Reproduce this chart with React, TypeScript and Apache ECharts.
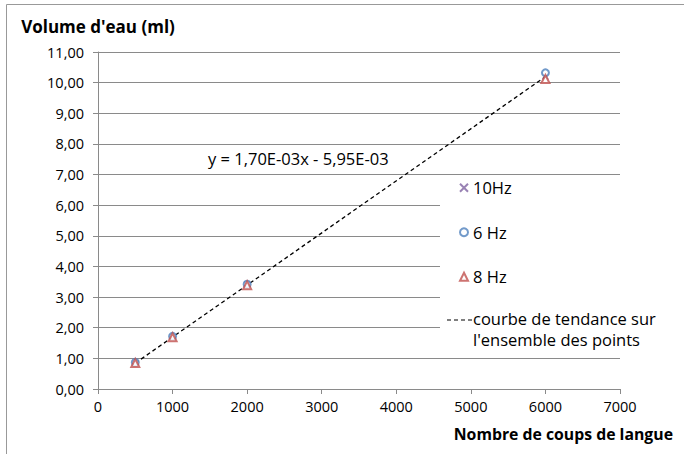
import React, { useEffect, useRef } from "react";
import * as echarts from "echarts";

const xTicks = [0, 1000, 2000, 3000, 4000, 5000, 6000, 7000];
const seriesNames = ["10Hz", "6 Hz", "8 Hz"];
const strokes = [500, 1000, 2000, 6000];
const vol10Hz = [0.86, 1.7, 3.41, 10.2];
const vol6Hz = [0.87, 1.72, 3.42, 10.32];
const vol8Hz = [0.85, 1.69, 3.39, 10.12];
const trendX = [500, 6000];
const trendY = [0.844, 10.194];
const trendLabel = "y = 1,70E-03x - 5,95E-03";
const trendLegend = ["courbe de tendance sur", "l'ensemble des points"];

const FONT = "'Open Sans', sans-serif";
const CROSS = "path://M0,0L10,10M10,0L0,10";

export default function App() {
  const ref = useRef<HTMLDivElement>(null);
  useEffect(() => {
    if (!ref.current) return;
    const chart = echarts.init(ref.current, null, { renderer: "svg" });
    const pairs = (ys: number[]) => strokes.map((x, i) => [x, ys[i]]);
    const gridColor = "#8a8a8a";
    chart.setOption({
      animation: false,
      backgroundColor: "#fff",
      textStyle: { fontFamily: FONT },
      grid: { left: 98, right: 64, top: 52, bottom: 65 },
      xAxis: {
        type: "value",
        min: 0,
        max: 7000,
        interval: 1000,
        name: "Nombre de coups de langue",
        nameLocation: "end",
        nameGap: 53,
        nameTextStyle: {
          fontFamily: FONT,
          fontWeight: "bold",
          fontSize: 15.8,
          color: "#000",
          align: "right",
          verticalAlign: "top",
          padding: [37, 0, 0, 0],
        },
        axisLine: { show: true, lineStyle: { color: gridColor, width: 1 } },
        axisTick: { show: true, length: 5, lineStyle: { color: gridColor } },
        axisLabel: {
          color: "#000",
          fontSize: 14.5,
          fontFamily: FONT,
          margin: 10,
          formatter: (v: number) => String(xTicks.find((t) => t === v) ?? v),
        },
        splitLine: { show: false },
      },
      yAxis: {
        type: "value",
        min: 0,
        max: 11,
        interval: 1,
        name: "Volume d'eau (ml)",
        nameLocation: "end",
        nameGap: 17,
        nameTextStyle: {
          fontFamily: FONT,
          fontWeight: "bold",
          fontSize: 17,
          color: "#000",
        },
        axisLine: { show: true, lineStyle: { color: gridColor, width: 1 } },
        axisTick: { show: true, length: 5, lineStyle: { color: gridColor } },
        axisLabel: {
          color: "#000",
          fontSize: 14.5,
          fontFamily: FONT,
          margin: 14,
          formatter: (v: number) => v.toFixed(2).replace(".", ","),
        },
        splitLine: { show: true, lineStyle: { color: gridColor, width: 1 } },
      },
      legend: {
        orient: "vertical",
        left: 454,
        top: 174,
        itemWidth: 8,
        itemHeight: 8,
        itemGap: 27,
        data: seriesNames,
        textStyle: { fontSize: 16.5, fontFamily: FONT, color: "#000", lineHeight: 17.5 },
        z: 6,
      },
      graphic: [
        {
          type: "rect",
          shape: { x: 6.5, y: 4.5, width: 700, height: 500 },
          style: { fill: "none", stroke: "#999", lineWidth: 1 },
          z: 10,
          silent: true,
        },
        {
          type: "rect",
          shape: { x: 440, y: 176.5, width: 190, height: 181 },
          style: { fill: "#fff" },
          z: 3,
          silent: true,
        },
        {
          type: "line",
          shape: { x1: 447, y1: 320, x2: 472, y2: 320 },
          style: { stroke: "#000", lineWidth: 1.2, lineDash: [4, 3] },
          z: 6,
        },
        {
          type: "text",
          left: 473,
          top: 308,
          style: {
            text: trendLegend.join("\n"),
            fontSize: 16.5,
            fontFamily: FONT,
            fill: "#000",
            lineHeight: 21,
          },
          z: 6,
        },
        {
          type: "text",
          left: 208,
          top: 150,
          style: { text: trendLabel, fontSize: 16.5, fontFamily: FONT, fill: "#000" },
          z: 6,
        },
      ],
      series: [
        {
          name: "courbe",
          type: "line",
          data: trendX.map((x, i) => [x, trendY[i]]),
          showSymbol: false,
          lineStyle: { color: "#000", width: 1.3, type: [4, 3] },
          z: 2,
          silent: true,
        },
        {
          name: seriesNames[0],
          type: "scatter",
          data: pairs(vol10Hz),
          symbol: CROSS,
          symbolSize: 6,
          itemStyle: { color: "#7F63A1", borderColor: "#7F63A1", borderWidth: 1.2 },
          z: 3,
        },
        {
          name: seriesNames[1],
          type: "scatter",
          data: pairs(vol6Hz),
          symbol: "emptyCircle",
          symbolSize: 7,
          itemStyle: { color: "#4F81BD", borderColor: "#4F81BD", borderWidth: 1.5 },
          z: 4,
        },
        {
          name: seriesNames[2],
          type: "scatter",
          data: pairs(vol8Hz),
          symbol: "emptyTriangle",
          symbolSize: 8,
          itemStyle: { color: "#C0504D", borderColor: "#C0504D", borderWidth: 1.5 },
          z: 5,
        },
      ],
    });
    return () => chart.dispose();
  }, []);
  return <div ref={ref} style={{ width: 684, height: 454, position: "absolute", left: 0, top: 0 }} />;
}
